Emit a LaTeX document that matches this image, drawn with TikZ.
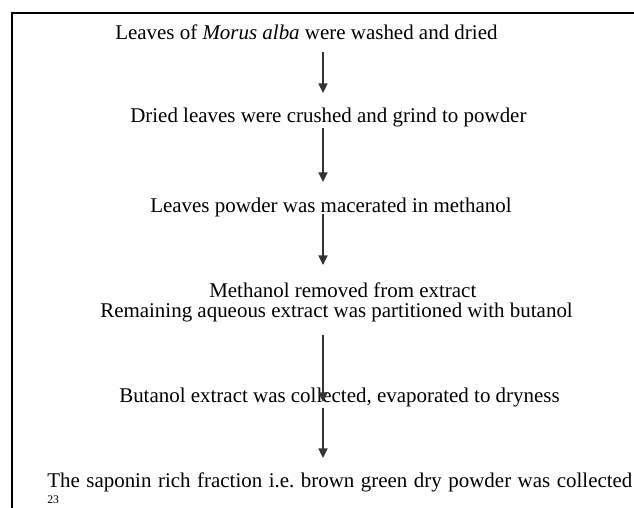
\documentclass[tikz,border=0pt]{standalone}
\usepackage{xcolor}
\usepackage{fontspec}
\setmainfont{Liberation Serif}
\usepackage{tikz}
\usetikzlibrary{arrows.meta,calc}
\frenchspacing

\tikzset{
  steptext/.style={anchor=base west,inner sep=0pt,font=\fontsize{14.9}{17}\selectfont},
  flow/.style={draw=black!80,line width=0.9pt,-{Triangle[width=6.4pt,length=6.8pt]}}
}

\begin{document}
\begin{tikzpicture}[x=0.025cm,y=-0.025cm]
\useasboundingbox (0,0) rectangle (634,508);
% frame
\draw[line width=1.5pt] (12,508) -- (12,13) -- (634,13);
\coordinate (ax) at (323,0);
% steps
\node[steptext] (s1) at (115,39) {Leaves of \textit{Morus alba} were washed and dried};
\node[steptext] (s2) at (130,122) {Dried leaves were crushed and grind to powder};
\node[steptext] (s3) at (150,212.5) {Leaves powder was macerated in methanol};
\node[steptext] (s4) at (209,297) {Methanol removed from extract};
\node[steptext] (s4b) at (100,317.5) {Remaining aqueous extract was partitioned with butanol};
\node[steptext] (s5) at (119,402.5) {Butanol extract was collected, evaporated to dryness};
\node[steptext] (s6) at (47,487.5) {\makebox[14.625cm][s]{The saponin rich fraction i.e. brown green dry powder was collected}};
\node[anchor=base west,inner sep=0pt,font=\fontsize{8.3}{9}\selectfont] (pg) at (47,503) {23};
% arrows
\draw[flow] ($(s1.base -| ax)+(0,13)$) -- ($(s2.base -| ax)+(0,-29)$);
\draw[flow] ($(s2.base -| ax)+(0,6)$) -- ($(s3.base -| ax)+(0,-30.5)$);
\draw[flow] ($(s3.base -| ax)+(0,1)$) -- ($(s4.base -| ax)+(0,-32)$);
\draw[flow] ($(s4b.base -| ax)+(0,17.5)$) -- ($(s5.base -| ax)+(0,-0.5)$);
\draw[flow] ($(s5.base -| ax)+(0,5)$) -- ($(s6.base -| ax)+(0,-29.5)$);
\end{tikzpicture}
\end{document}
